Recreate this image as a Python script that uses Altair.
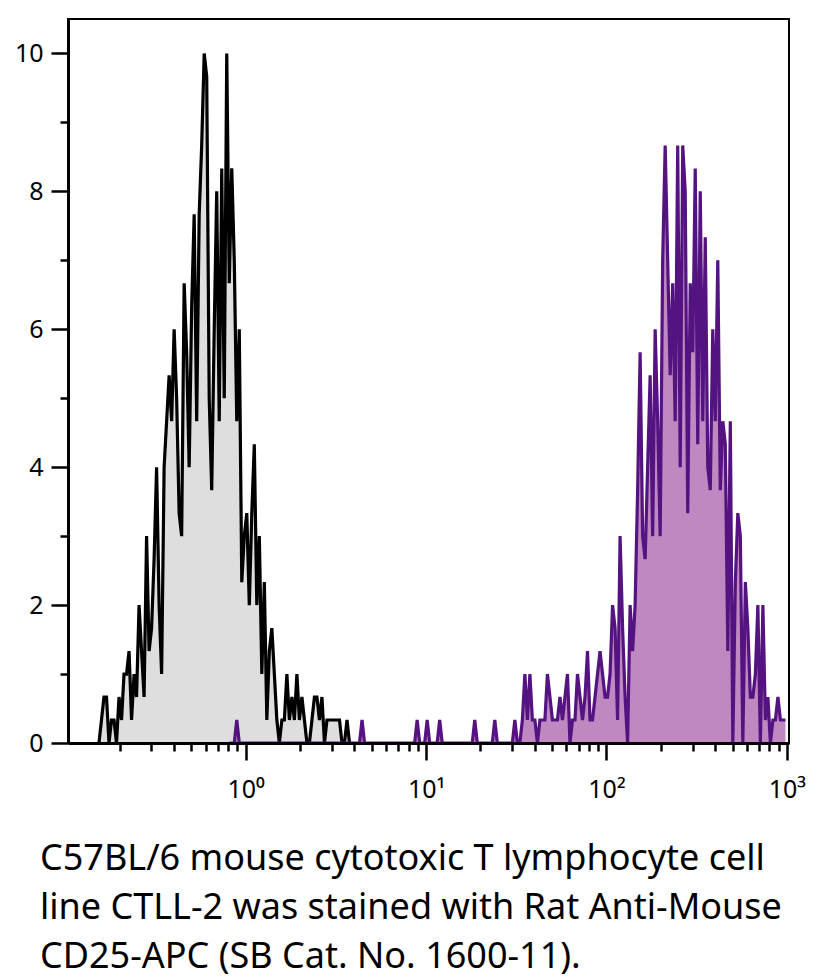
import altair as alt
import pandas as pd

# ---- histogram grid (channels on a log scale) ----
LOG_START = -0.98          # log10 of channel 0
BINS_PER_DECADE = 72
COUNTS_PER_UNIT = 3        # y axis unit = 3 events

# isotype control (black outline, grey fill); first channel index + counts
black_first_bin = 12
black_counts = [0,
                1, 2, 2, 0, 1, 1, 0, 2, 1, 3,
                3, 4, 1, 3, 2, 6, 4, 2, 9, 4,
                5, 8, 12, 6, 3, 12, 14, 16, 14, 18,
                15, 10, 9, 20, 17, 12, 19, 23, 14, 23,
                26, 30, 29, 15, 11, 18, 24, 14, 25, 15,
                30, 20, 25, 21, 14, 18, 7, 9, 10, 6,
                10, 13, 6, 9, 3, 7, 1, 4, 5, 3,
                1, 0, 1, 1, 3, 1, 2, 1, 3, 1,
                2, 1, 0, 0, 1, 2, 2, 1, 2, 0,
                1, 1, 1, 1, 1, 1, 0, 0, 1, 0]

# CD25-APC stained (purple)
purple_first_bin = 64
purple_single_event_bins = [67, 117, 139, 143, 148, 162, 170, 178]
purple_dense_first_bin = 180
purple_dense_counts = [0, 1, 3, 1, 3, 1, 1, 0, 1, 1,
                       1, 3, 2, 1, 1, 1, 2, 1, 2, 3,
                       0, 1, 1, 3, 2, 1, 2, 4, 1, 1,
                       2, 3, 4, 3, 2, 2, 3, 6, 5, 1,
                       9, 5, 2, 0, 6, 4, 6, 11, 17, 9,
                       8, 12, 16, 9, 18, 14, 9, 21, 26, 21,
                       16, 20, 14, 26, 12, 26, 24, 10, 20, 17,
                       25, 13, 24, 14, 22, 12, 11, 18, 14, 21,
                       11, 14, 13, 4, 14, 0, 7, 10, 9, 0,
                       7, 5, 2, 2, 3, 6, 0, 6, 1, 2,
                       0, 1, 1, 2, 1, 1, 1]

x_major_ticks = [1, 10, 100, 1000]
x_minor_ticks = [0.2, 0.3, 0.4, 0.5, 0.6, 0.7, 0.8, 0.9,
                 2, 3, 4, 5, 6, 7, 8, 9,
                 20, 30, 40, 50, 60, 70, 80, 90,
                 200, 300, 400, 500, 600, 700, 800, 900]
y_ticks = [0, 1, 2, 3, 4, 5, 6, 7, 8, 9, 10]

caption_lines = ["C57BL/6 mouse cytotoxic T lymphocyte cell",
                 "line CTLL-2 was stained with Rat Anti-Mouse",
                 "CD25-APC (SB Cat. No. 1600-11)."]


def channel_value(k):
    return 10 ** (LOG_START + k / BINS_PER_DECADE)


black_df = pd.DataFrame({
    "x": [channel_value(black_first_bin + i) for i in range(len(black_counts))],
    "y": [c / COUNTS_PER_UNIT for c in black_counts],
})

purple_rows = []
last_bin = purple_dense_first_bin + len(purple_dense_counts) - 1
for k in range(purple_first_bin, last_bin + 1):
    if k >= purple_dense_first_bin:
        c = purple_dense_counts[k - purple_dense_first_bin]
    else:
        c = 1 if k in purple_single_event_bins else 0
    purple_rows.append({"x": channel_value(k), "y": c / COUNTS_PER_UNIT})
purple_df = pd.DataFrame(purple_rows)

FONT = "Noto Sans"

x_scale = alt.Scale(type="log", domain=[0.1035, 1028], nice=False)
y_scale = alt.Scale(domain=[0, 10.5], nice=False, zero=True)

major_test = " || ".join(f"datum.value == {v}" for v in x_major_ticks)
x_axis = alt.Axis(
    values=sorted(x_major_ticks + x_minor_ticks),
    labelExpr="datum.value == 1 ? '10⁰' : datum.value == 10 ? '10¹' : "
              "datum.value == 100 ? '10²' : datum.value == 1000 ? '10³' : ''",
    tickSize={"condition": {"test": major_test, "value": 17}, "value": 8},
    tickWidth=2.5, tickColor="black", domainWidth=3, domainColor="black",
    labelFont=FONT, labelFontSize=25, labelColor="black", labelPadding=17,
    labelFlush=False, labelOverlap=False,
    title=None, grid=False, zindex=1,
)
y_axis = alt.Axis(
    values=y_ticks,
    labelExpr="datum.value % 2 == 0 ? format(datum.value, 'd') : ''",
    tickSize={"condition": {"test": "datum.value % 2 == 0", "value": 17}, "value": 8},
    tickWidth=2.5, tickColor="black", domainWidth=3, domainColor="black",
    labelFont=FONT, labelFontSize=25, labelColor="black", labelPadding=8,
    labelFlush=False, labelOverlap=False,
    title=None, grid=False, zindex=1,
)

x_enc = alt.X("x:Q", scale=x_scale, axis=x_axis)
y_enc = alt.Y("y:Q", scale=y_scale, axis=y_axis)

black_area = alt.Chart(black_df).mark_area(color="#dedede", opacity=1).encode(x=x_enc, y=y_enc)
black_line = alt.Chart(black_df).mark_line(color="black", strokeWidth=3.2).encode(x="x:Q", y="y:Q")
purple_area = alt.Chart(purple_df).mark_area(color="#bf88c0", opacity=1).encode(x="x:Q", y="y:Q")
purple_line = alt.Chart(purple_df).mark_line(color="#541381", strokeWidth=3.2).encode(x="x:Q", y="y:Q")

chart = alt.layer(black_area, black_line, purple_area, purple_line).properties(
    width=721, height=724,
    autosize=alt.AutoSizeParams(type="none"),
    padding={"left": 60, "top": 11, "right": 25, "bottom": 236},
    title=alt.TitleParams(
        text=caption_lines, orient="bottom", anchor="start", frame="group",
        font=FONT, fontSize=36, fontWeight="normal", color="black",
        lineHeight=49, offset=40, dx=-28,
    ),
).configure_view(stroke="black", strokeWidth=2)

chart.save("out.html", embed_options={"renderer": "svg", "actions": False})
